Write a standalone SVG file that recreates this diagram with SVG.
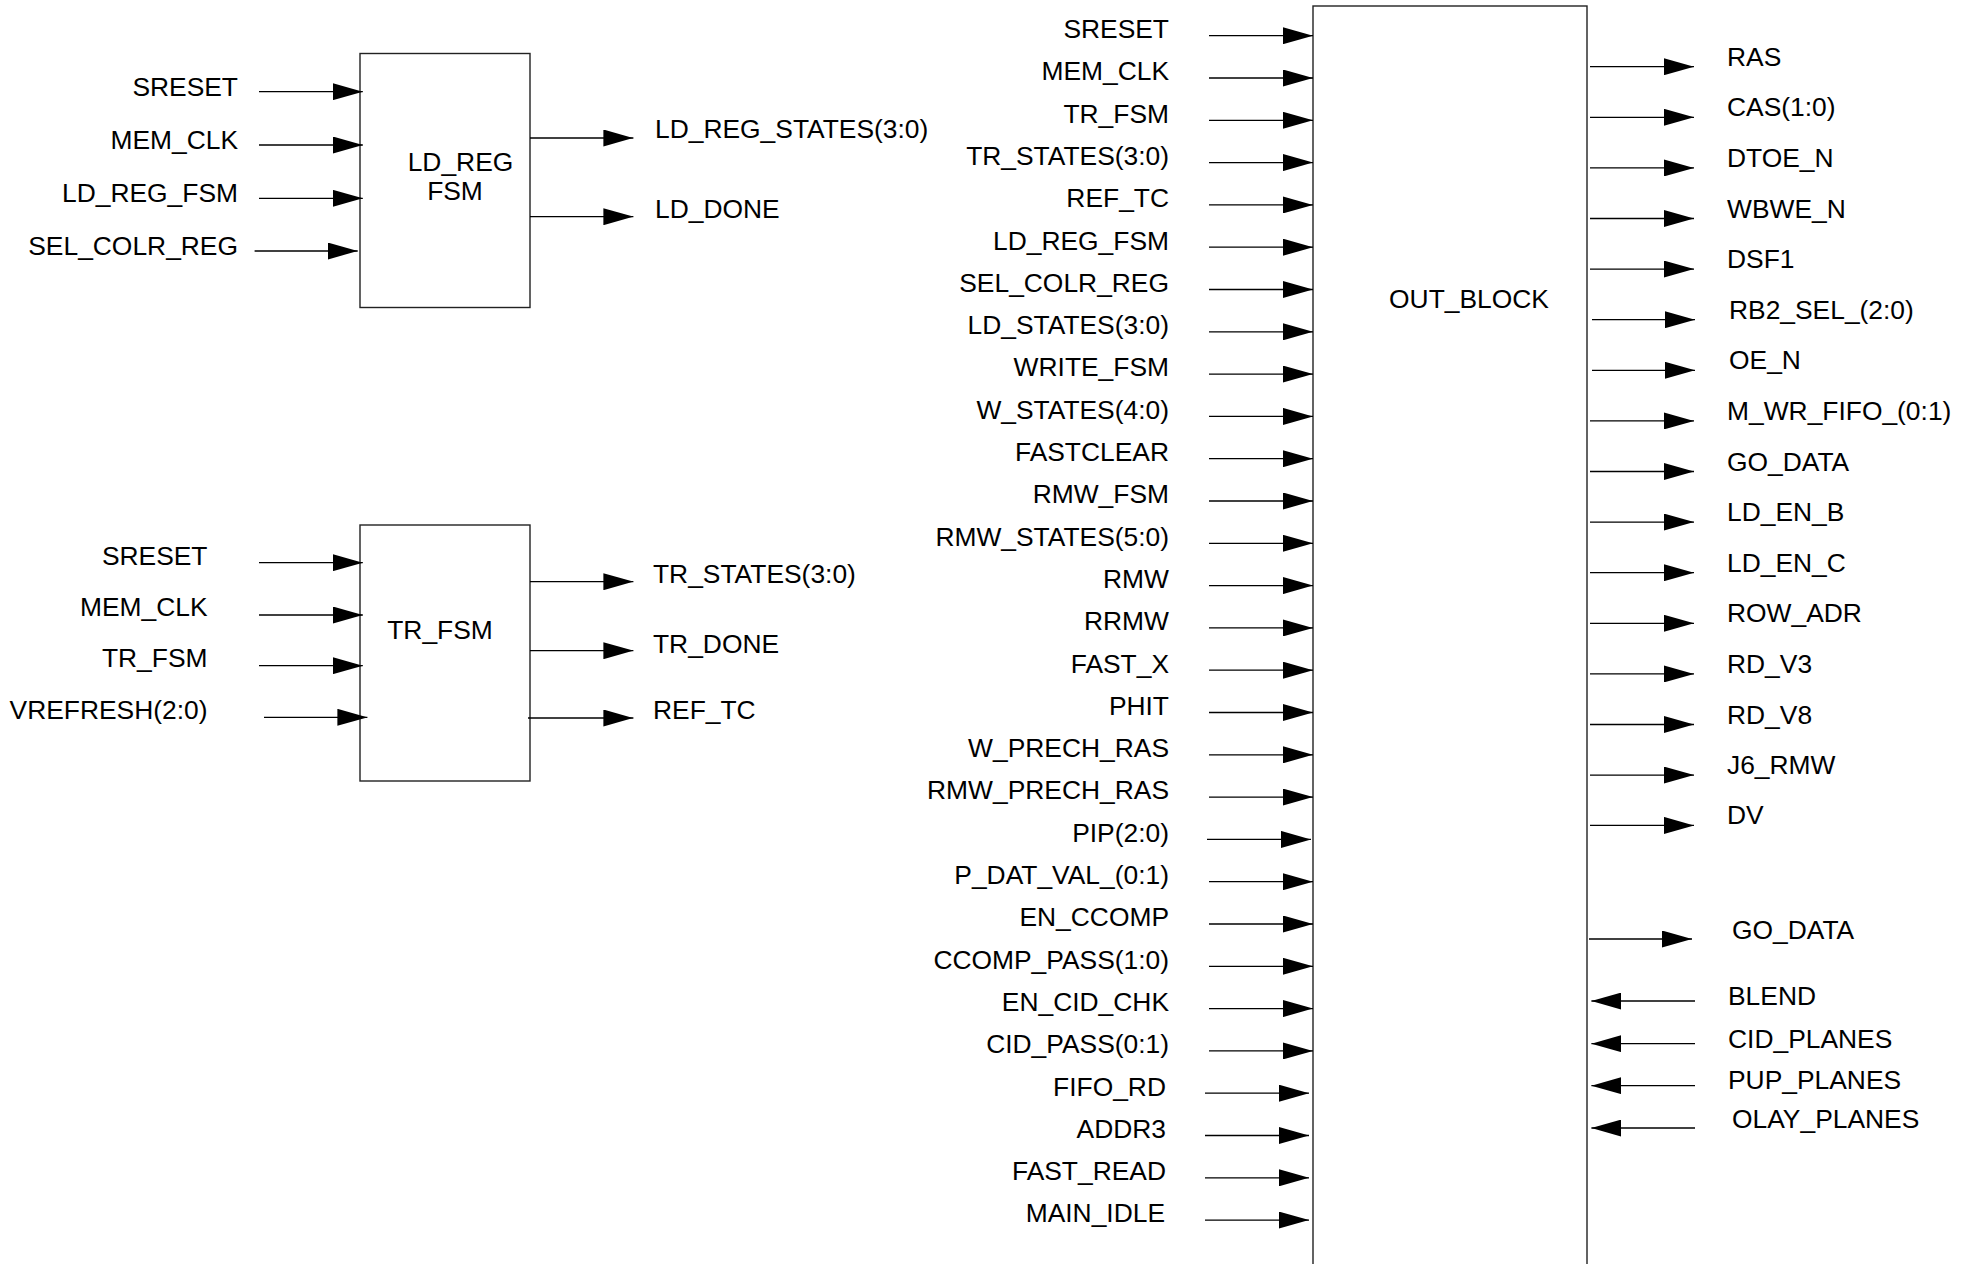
<svg xmlns="http://www.w3.org/2000/svg" width="1975" height="1264" viewBox="0 0 1975 1264">
<defs>
<marker id="ah" markerUnits="userSpaceOnUse" markerWidth="30" markerHeight="17" refX="30" refY="8.5" orient="auto"><path d="M0,0 L30,8.5 L0,17 z" fill="#000"/></marker>
<style>
text{font-family:"Liberation Sans",Arial,sans-serif;font-size:26.4px;fill:#000}
.e{text-anchor:end}
.m{text-anchor:middle}
.box{fill:#fff;stroke:#222;stroke-width:1.4}
#connectors line{stroke:#000;stroke-width:1.3;marker-end:url(#ah)}
</style>
</defs>
<rect width="1975" height="1264" fill="#fff"/>

<g id="ld_reg_fsm">
<rect class="box" x="360" y="53.5" width="170" height="254"/>
<text class="m" x="460.5" y="171">LD_REG</text>
<text class="m" x="455" y="200">FSM</text>
</g>
<g id="tr_fsm">
<rect class="box" x="360" y="525" width="170" height="256"/>
<text class="m" x="440" y="639">TR_FSM</text>
</g>
<g id="out_block">
<rect class="box" x="1313" y="6" width="274" height="1270"/>
<text class="m" x="1469" y="308">OUT_BLOCK</text>
</g>

<g id="connectors">
<line x1="259" y1="91.7" x2="362.8" y2="91.7"/>
<line x1="259" y1="145" x2="362.8" y2="145"/>
<line x1="259" y1="198.3" x2="362.8" y2="198.3"/>
<line x1="254.6" y1="251" x2="357.7" y2="251"/>
<line x1="530" y1="138" x2="633.4" y2="138"/>
<line x1="530" y1="216.7" x2="633.4" y2="216.7"/>

<line x1="259" y1="562.7" x2="362.8" y2="562.7"/>
<line x1="259" y1="615" x2="362.8" y2="615"/>
<line x1="259" y1="665.7" x2="362.8" y2="665.7"/>
<line x1="264" y1="717.3" x2="367.4" y2="717.3"/>
<line x1="530" y1="581.7" x2="633.4" y2="581.7"/>
<line x1="530" y1="650.7" x2="633.4" y2="650.7"/>
<line x1="528" y1="718" x2="633.4" y2="718"/>

<line x1="1209" y1="35.7" x2="1313" y2="35.7"/>
<line x1="1209" y1="78" x2="1313" y2="78"/>
<line x1="1209" y1="120.3" x2="1313" y2="120.3"/>
<line x1="1209" y1="162.6" x2="1313" y2="162.6"/>
<line x1="1209" y1="204.9" x2="1313" y2="204.9"/>
<line x1="1209" y1="247.2" x2="1313" y2="247.2"/>
<line x1="1209" y1="289.5" x2="1313" y2="289.5"/>
<line x1="1209" y1="331.8" x2="1313" y2="331.8"/>
<line x1="1209" y1="374.1" x2="1313" y2="374.1"/>
<line x1="1209" y1="416.4" x2="1313" y2="416.4"/>
<line x1="1209" y1="458.7" x2="1313" y2="458.7"/>
<line x1="1209" y1="501" x2="1313" y2="501"/>
<line x1="1209" y1="543.3" x2="1313" y2="543.3"/>
<line x1="1209" y1="585.6" x2="1313" y2="585.6"/>
<line x1="1209" y1="627.9" x2="1313" y2="627.9"/>
<line x1="1209" y1="670.2" x2="1313" y2="670.2"/>
<line x1="1209" y1="712.5" x2="1313" y2="712.5"/>
<line x1="1209" y1="754.8" x2="1313" y2="754.8"/>
<line x1="1209" y1="797.1" x2="1313" y2="797.1"/>
<line x1="1207" y1="839.4" x2="1311" y2="839.4"/>
<line x1="1209" y1="881.7" x2="1313" y2="881.7"/>
<line x1="1209" y1="924" x2="1313" y2="924"/>
<line x1="1209" y1="966.3" x2="1313" y2="966.3"/>
<line x1="1209" y1="1008.6" x2="1313" y2="1008.6"/>
<line x1="1209" y1="1050.9" x2="1313" y2="1050.9"/>
<line x1="1205" y1="1093.2" x2="1309" y2="1093.2"/>
<line x1="1205" y1="1135.5" x2="1309" y2="1135.5"/>
<line x1="1205" y1="1177.8" x2="1309" y2="1177.8"/>
<line x1="1205" y1="1220.1" x2="1309" y2="1220.1"/>

<line x1="1590" y1="66.7" x2="1694" y2="66.7"/>
<line x1="1590" y1="117.3" x2="1694" y2="117.3"/>
<line x1="1590" y1="167.9" x2="1694" y2="167.9"/>
<line x1="1590" y1="218.5" x2="1694" y2="218.5"/>
<line x1="1590" y1="269.1" x2="1694" y2="269.1"/>
<line x1="1592" y1="319.7" x2="1695" y2="319.7"/>
<line x1="1592" y1="370.3" x2="1695" y2="370.3"/>
<line x1="1590" y1="420.9" x2="1694" y2="420.9"/>
<line x1="1590" y1="471.5" x2="1694" y2="471.5"/>
<line x1="1590" y1="522.1" x2="1694" y2="522.1"/>
<line x1="1590" y1="572.7" x2="1694" y2="572.7"/>
<line x1="1590" y1="623.3" x2="1694" y2="623.3"/>
<line x1="1590" y1="673.9" x2="1694" y2="673.9"/>
<line x1="1590" y1="724.5" x2="1694" y2="724.5"/>
<line x1="1590" y1="775.1" x2="1694" y2="775.1"/>
<line x1="1590" y1="825.4" x2="1694" y2="825.4"/>
<line x1="1589" y1="939" x2="1692" y2="939"/>

<line x1="1695" y1="1001" x2="1591.4" y2="1001"/>
<line x1="1695" y1="1043.7" x2="1591.4" y2="1043.7"/>
<line x1="1695" y1="1085.7" x2="1591.4" y2="1085.7"/>
<line x1="1695" y1="1128" x2="1591.4" y2="1128"/>
</g>

<g id="labels">
<text class="e" x="238" y="96">SRESET</text>
<text class="e" x="238" y="149">MEM_CLK</text>
<text class="e" x="238" y="202">LD_REG_FSM</text>
<text class="e" x="238" y="255">SEL_COLR_REG</text>
<text x="655" y="138">LD_REG_STATES(3:0)</text>
<text x="655" y="218">LD_DONE</text>

<text class="e" x="207.5" y="565">SRESET</text>
<text class="e" x="207.5" y="616">MEM_CLK</text>
<text class="e" x="207.5" y="667">TR_FSM</text>
<text class="e" x="207.5" y="719">VREFRESH(2:0)</text>
<text x="653" y="583">TR_STATES(3:0)</text>
<text x="653" y="653">TR_DONE</text>
<text x="653" y="719">REF_TC</text>

<text class="e" x="1169" y="38">SRESET</text>
<text class="e" x="1169" y="80.3">MEM_CLK</text>
<text class="e" x="1169" y="122.6">TR_FSM</text>
<text class="e" x="1169" y="164.9">TR_STATES(3:0)</text>
<text class="e" x="1169" y="207.2">REF_TC</text>
<text class="e" x="1169" y="249.5">LD_REG_FSM</text>
<text class="e" x="1169" y="291.8">SEL_COLR_REG</text>
<text class="e" x="1169" y="334.1">LD_STATES(3:0)</text>
<text class="e" x="1169" y="376.4">WRITE_FSM</text>
<text class="e" x="1169" y="418.7">W_STATES(4:0)</text>
<text class="e" x="1169" y="461">FASTCLEAR</text>
<text class="e" x="1169" y="503.3">RMW_FSM</text>
<text class="e" x="1169" y="545.6">RMW_STATES(5:0)</text>
<text class="e" x="1169" y="587.9">RMW</text>
<text class="e" x="1169" y="630.2">RRMW</text>
<text class="e" x="1169" y="672.5">FAST_X</text>
<text class="e" x="1169" y="714.8">PHIT</text>
<text class="e" x="1169" y="757.1">W_PRECH_RAS</text>
<text class="e" x="1169" y="799.4">RMW_PRECH_RAS</text>
<text class="e" x="1169" y="841.7">PIP(2:0)</text>
<text class="e" x="1169" y="884">P_DAT_VAL_(0:1)</text>
<text class="e" x="1169" y="926.3">EN_CCOMP</text>
<text class="e" x="1169" y="968.6">CCOMP_PASS(1:0)</text>
<text class="e" x="1169" y="1010.9">EN_CID_CHK</text>
<text class="e" x="1169" y="1053.2">CID_PASS(0:1)</text>
<text class="e" x="1166" y="1095.5">FIFO_RD</text>
<text class="e" x="1166" y="1137.8">ADDR3</text>
<text class="e" x="1166" y="1180.1">FAST_READ</text>
<text class="e" x="1165" y="1222.4">MAIN_IDLE</text>

<text x="1727" y="65.7">RAS</text>
<text x="1727" y="116.3">CAS(1:0)</text>
<text x="1727" y="166.9">DTOE_N</text>
<text x="1727" y="217.5">WBWE_N</text>
<text x="1727" y="268.1">DSF1</text>
<text x="1729" y="318.7">RB2_SEL_(2:0)</text>
<text x="1729" y="369.3">OE_N</text>
<text x="1727" y="419.9">M_WR_FIFO_(0:1)</text>
<text x="1727" y="470.5">GO_DATA</text>
<text x="1727" y="521.1">LD_EN_B</text>
<text x="1727" y="571.7">LD_EN_C</text>
<text x="1727" y="622.3">ROW_ADR</text>
<text x="1727" y="672.9">RD_V3</text>
<text x="1727" y="723.5">RD_V8</text>
<text x="1727" y="774.1">J6_RMW</text>
<text x="1727" y="824.4">DV</text>
<text x="1732" y="939">GO_DATA</text>
<text x="1728" y="1005">BLEND</text>
<text x="1728" y="1047.5">CID_PLANES</text>
<text x="1728" y="1089.3">PUP_PLANES</text>
<text x="1732" y="1127.7">OLAY_PLANES</text>
</g>
</svg>
